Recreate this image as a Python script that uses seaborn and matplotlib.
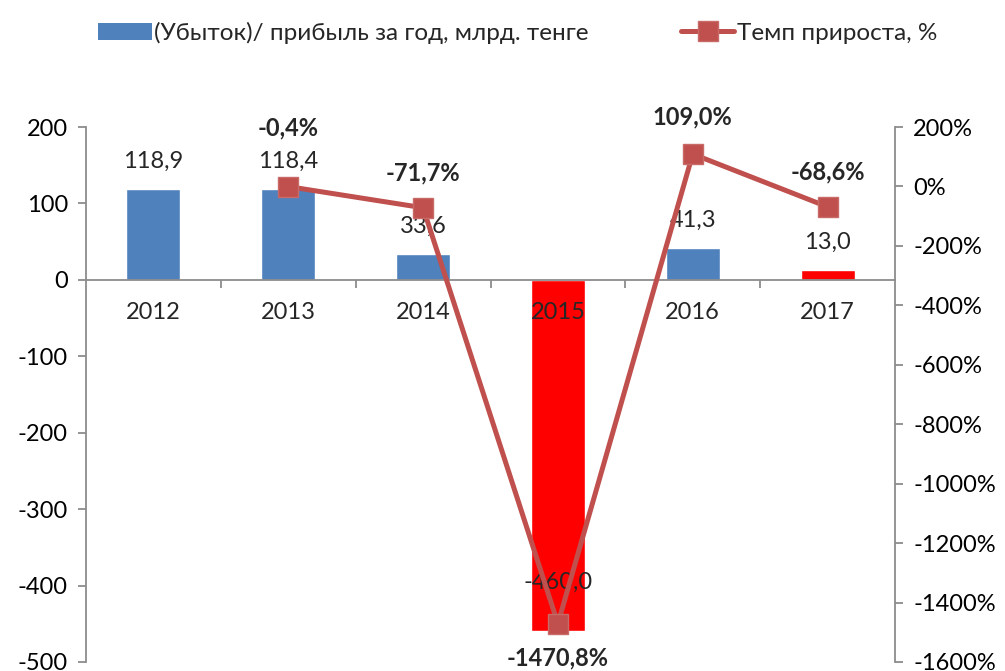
import matplotlib
matplotlib.use("Agg")
import matplotlib.pyplot as plt
import seaborn as sns
import pandas as pd
import numpy as np
from matplotlib.ticker import FixedLocator, FuncFormatter
from matplotlib.lines import Line2D
from matplotlib.patches import Patch

years = ["2012", "2013", "2014", "2015", "2016", "2017"]
profit = [118.9, 118.4, 33.6, -460.0, 41.3, 13.0]
growth = [np.nan, -0.4, -71.7, -1470.8, 109.0, -68.6]
profit_labels = ["118,9", "118,4", "33,6", "-460,0", "41,3", "13,0"]
growth_labels = ["", "-0,4%", "-71,7%", "-1470,8%", "109,0%", "-68,6%"]
bar_series = "(Убыток)/ прибыль за год, млрд. тенге"
line_series = "Темп прироста, %"

BLUE = "#4F81BD"
RED_BAR = "#FF0000"
LINE = "#C0504D"
bar_colors = [BLUE, BLUE, BLUE, RED_BAR, BLUE, RED_BAR]

sns.set_theme(style="white")
plt.rcParams["font.family"] = ["Lato", "Open Sans", "DejaVu Sans"]
FS = 17

fig = plt.figure(figsize=(10.05, 6.71), dpi=100)
ax = fig.add_axes([86 / 1005, 1 - 662 / 671, (895 - 86) / 1005, (662 - 127) / 671])

df = pd.DataFrame({"year": years, "profit": profit, "growth": growth})
sns.barplot(data=df, x="year", y="profit", hue="year", palette=bar_colors,
            legend=False, width=0.4, ax=ax, saturation=1)
ax.set_axisbelow(False)
ax.set_xlim(-0.5, 5.5)
ax.set_ylim(-500, 200)
ax.set_xlabel("")
ax.set_ylabel("")
ax.yaxis.set_major_locator(FixedLocator(np.arange(-500, 201, 100)))
ax.yaxis.set_major_formatter(FuncFormatter(lambda v, p: f"{int(v)}"))
for s in ["top", "right"]:
    ax.spines[s].set_visible(False)
ax.spines["left"].set_color("#8C8C8C")
ax.spines["left"].set_linewidth(1.3)
ax.spines["bottom"].set_position(("data", 0))
ax.spines["bottom"].set_color("#8C8C8C")
ax.spines["bottom"].set_linewidth(1.3)
ax.tick_params(axis="y", direction="out", length=6, width=1.3, color="#8C8C8C",
               labelsize=FS, labelcolor="black", pad=7, left=True)
ax.tick_params(axis="x", which="major", length=0, labelsize=FS, pad=16)
ax.xaxis.set_minor_locator(FixedLocator(np.arange(0.5, 5.0, 1.0)))
ax.tick_params(axis="x", which="minor", direction="out", length=6, width=1.3,
               color="#8C8C8C", bottom=True)
ax.grid(False)

# bar value labels
for i, (v, lab) in enumerate(zip(profit, profit_labels)):
    off = 20 if v >= 0 else 35
    ax.annotate(lab, (i, v), xytext=(0, off), textcoords="offset points",
                ha="center", va="center", fontsize=FS)

ax2 = ax.twinx()
ax2.set_ylim(-1600, 200)
ax2.plot(range(len(years)), growth, color=LINE, lw=3.6, marker="s",
         markersize=15, markerfacecolor=LINE, markeredgecolor="#C86A67",
         markeredgewidth=1, zorder=5)
ax2.yaxis.set_major_locator(FixedLocator(np.arange(-1600, 201, 200)))
ax2.yaxis.set_major_formatter(FuncFormatter(lambda v, p: f"{int(v)}%"))
for s in ["top", "left", "bottom"]:
    ax2.spines[s].set_visible(False)
ax2.spines["right"].set_color("#8C8C8C")
ax2.spines["right"].set_linewidth(1.3)
ax2.tick_params(axis="y", direction="out", length=6, width=1.3, color="#8C8C8C",
                labelsize=FS, labelcolor="black", pad=7, right=True)
ax2.grid(False)

growth_offsets = {1: 42, 2: 25, 3: -25, 4: 27, 5: 25}
for i, (v, lab) in enumerate(zip(growth, growth_labels)):
    if np.isnan(v):
        continue
    ax2.annotate(lab, (i, v), xytext=(0, growth_offsets[i]), textcoords="offset points",
                 ha="center", va="center", fontsize=FS, fontweight="bold")

handles = [Patch(facecolor=BLUE, edgecolor="none"),
           Line2D([0], [0], color=LINE, lw=3.6, marker="s", markersize=15,
                  markerfacecolor=LINE, markeredgecolor="#C86A67")]
fig.legend(handles, [bar_series, line_series], loc="upper center", ncol=2,
           bbox_to_anchor=(0.515, 1.0), frameon=False, fontsize=FS + 0.5,
           handlelength=2.2, handletextpad=0.1, columnspacing=3.8)

fig.savefig("out.png", dpi=100)
